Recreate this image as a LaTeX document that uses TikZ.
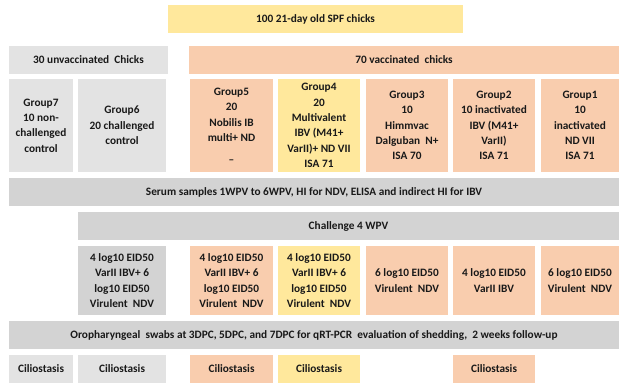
\documentclass[tikz,border=0pt]{standalone}
\usepackage{fontspec}
\setmainfont{Carlito}
\definecolor{yel}{HTML}{FFE89C}
\definecolor{ora}{HTML}{F9CDAE}
\definecolor{lgray}{HTML}{E3E3E3}
\definecolor{mgray}{HTML}{D3D3D3}
\tikzset{
  cell/.style={inner sep=0pt, align=center, text=black!90, font=\bfseries\fontsize{11.3}{15.4}\selectfont},
}
\newcommand{\cellbox}[7]{% name, x1,y1,x2,y2, fill, text
  \fill[#6] (#2,#3) rectangle (#4,#5);
  \node[cell] (#1) at ({(#2+#4)/2},{(#3+#5)/2}) {#7};
}
\begin{document}
\begin{tikzpicture}[x=1pt,y=-1pt]
\useasboundingbox (0,0) rectangle (619,383);
\cellbox{top}{168}{5}{463}{33}{yel}{100 21-day old SPF chicks}
\cellbox{unvac}{9}{46}{168}{74}{lgray}{30 unvaccinated\ \ Chicks}
\cellbox{vac}{189}{46}{619}{74}{ora}{70 vaccinated\ \ chicks}
\cellbox{g7}{9}{79}{73}{172}{lgray}{Group7\\10 non-\\challenged\\control}
\cellbox{g6}{78}{79}{166}{172}{lgray}{Group6\\20 challenged\\control}
\cellbox{g5}{190}{79}{273}{172}{ora}{Group5\\20\\Nobilis\ IB\\multi+ ND\\[6pt]–}
\cellbox{g4}{278}{79}{360}{172}{yel}{\fontsize{11.3}{14.3}\selectfont Group4\\20\\Multivalent\\IBV (M41+\\VarII)+ ND VII\\ISA 71}
\cellbox{g3}{366}{79}{448}{172}{ora}{Group3\\10\\Himmvac\\Dalguban\ \ N+\\ISA 70}
\cellbox{g2}{453}{79}{535}{172}{ora}{Group2\\10 inactivated\\IBV (M41+\\VarII)\\ISA 71}
\cellbox{g1}{541}{79}{619}{172}{ora}{Group1\\10\\inactivated\\ND VII\\ISA 71}
\cellbox{serum}{9}{178}{619}{206}{mgray}{Serum samples 1WPV to 6WPV, HI for NDV, ELISA and indirect HI for IBV}
\cellbox{chal}{78}{212}{619}{240}{mgray}{Challenge 4 WPV}
\cellbox{c6}{78}{246}{166}{315}{mgray}{4 log10 EID50\\VarII IBV+ 6\\log10 EID50\\Virulent\ \ NDV}
\cellbox{c5}{190}{246}{273}{315}{ora}{4 log10 EID50\\VarII IBV+ 6\\log10 EID50\\Virulent\ \ NDV}
\cellbox{c4}{278}{246}{360}{315}{yel}{4 log10 EID50\\VarII IBV+ 6\\log10 EID50\\Virulent\ \ NDV}
\cellbox{c3}{366}{246}{448}{315}{ora}{6 log10 EID50\\Virulent\ \ NDV}
\cellbox{c2}{453}{246}{535}{315}{ora}{4 log10 EID50\\VarII IBV}
\cellbox{c1}{541}{246}{619}{315}{ora}{6 log10 EID50\\Virulent\ \ NDV}
\cellbox{oro}{9}{321}{619}{349}{mgray}{Oropharyngeal\ \ swabs at 3DPC, 5DPC, and 7DPC for qRT-PCR\ \ evaluation of shedding,\ \ 2 weeks follow-up}
\cellbox{cil7}{9}{355}{73}{383}{lgray}{Ciliostasis}
\cellbox{cil6}{78}{355}{166}{383}{lgray}{Ciliostasis}
\cellbox{cil5}{190}{355}{273}{383}{ora}{Ciliostasis}
\cellbox{cil4}{278}{355}{360}{383}{yel}{Ciliostasis}
\cellbox{cil2}{453}{355}{535}{383}{ora}{Ciliostasis}
\end{tikzpicture}
\end{document}
